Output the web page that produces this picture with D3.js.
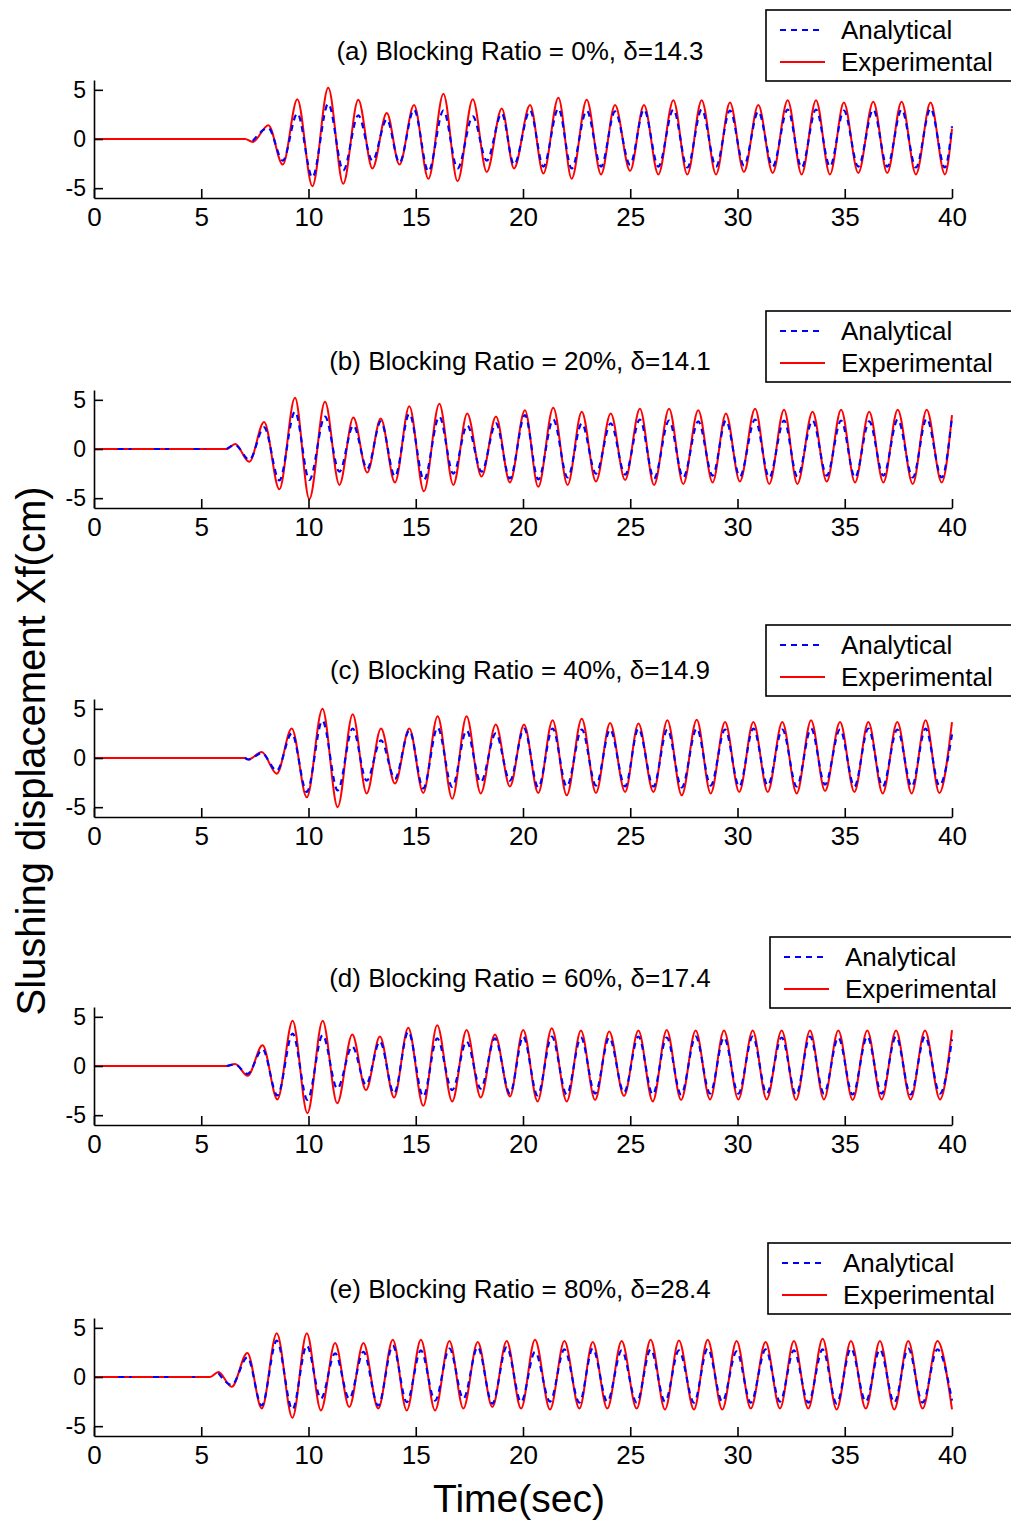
<!DOCTYPE html>
<html>
<head>
<meta charset="utf-8">
<script src="https://cdn.jsdelivr.net/npm/d3@7/dist/d3.min.js"></script>
<style>
body { margin: 0; background: #fff; }
text { font-family: "Liberation Sans", Arial, sans-serif; fill: #000; }
</style>
</head>
<body>
<script>
// axis ticks + labels
var xTicks = [0, 5, 10, 15, 20, 25, 30, 35, 40];
var yTicks = [-5, 0, 5];
var seriesNames = ["Analytical", "Experimental"];
var titles = [
  "(a) Blocking Ratio = 0%, \u03b4=14.3",
  "(b) Blocking Ratio = 20%, \u03b4=14.1",
  "(c) Blocking Ratio = 40%, \u03b4=14.9",
  "(d) Blocking Ratio = 60%, \u03b4=17.4",
  "(e) Blocking Ratio = 80%, \u03b4=28.4"
];

// extrema: time (sec), experimental, analytical (cm)
// (a) 0%
var tA   = [0, 7.04, 7.4, 8.13, 8.8, 9.48, 10.18, 10.92, 11.62, 12.32, 12.98, 13.65, 14.24, 14.92, 15.59, 16.29, 16.95, 17.66, 18.31, 19.01, 19.58, 20.33, 20.95, 21.65, 22.27, 22.97, 23.64, 24.29, 24.99, 25.64, 26.31, 27.01, 27.66, 28.33, 29.0, 29.65, 30.3, 30.97, 31.64, 32.34, 32.99, 33.66, 34.31, 34.96, 35.63, 36.33, 36.98, 37.65, 38.32, 39.0, 39.67, 40];
var expA = [0, 0, -0.3, 1.4, -2.6, 4.05, -4.8, 5.2, -4.55, 4.0, -3.0, 2.65, -2.6, 3.45, -4.05, 4.6, -4.3, 4.05, -3.35, 3.1, -3.0, 3.45, -3.5, 4.2, -4.05, 4.0, -3.6, 3.45, -3.25, 3.45, -3.6, 3.95, -3.6, 3.95, -3.6, 3.7, -3.35, 3.45, -3.45, 3.95, -3.6, 3.95, -3.6, 3.7, -3.45, 3.8, -3.45, 3.8, -3.6, 3.7, -3.6, 1.05];
var anaA = [null, null, -0.2, 1.1, -2.2, 2.6, -3.9, 3.6, -3.2, 2.4, -2.2, 2.0, -2.4, 3.0, -3.3, 2.9, -3.0, 2.3, -2.2, 2.6, -2.6, 2.9, -2.8, 3.1, -3.0, 2.9, -2.8, 2.8, -2.6, 3.0, -2.8, 3.0, -2.9, 3.0, -2.8, 2.9, -2.7, 2.8, -2.8, 3.0, -2.9, 3.0, -2.8, 2.9, -2.8, 3.0, -2.8, 3.0, -2.9, 3.1, -2.9, 1.3];

// (b) 20%
var tB   = [0, 1.0, 1.1, 1.75, 1.85, 2.7, 2.8, 3.5, 3.6, 4.55, 4.65, 5.2, 5.3, 6.19, 6.58, 7.24, 7.93, 8.64, 9.37, 10.04, 10.77, 11.44, 12.09, 12.74, 13.37, 14.03, 14.7, 15.38, 16.1, 16.75, 17.4, 18.07, 18.74, 19.39, 20.09, 20.71, 21.41, 22.08, 22.74, 23.4, 24.09, 24.76, 25.45, 26.11, 26.81, 27.47, 28.17, 28.84, 29.46, 30.11, 30.82, 31.48, 32.17, 32.79, 33.5, 34.16, 34.83, 35.48, 36.14, 36.8, 37.47, 38.17, 38.82, 39.52, 40];
var expB = [0, 0, 0, 0, 0, 0, 0, 0, 0, 0, 0, 0, 0, 0, 0.5, -1.3, 2.75, -4.1, 5.2, -5.1, 4.8, -3.65, 3.2, -2.4, 3.1, -3.4, 4.35, -4.3, 4.6, -3.65, 3.6, -2.8, 3.3, -3.4, 3.95, -3.85, 4.2, -3.65, 3.8, -3.3, 3.6, -3.15, 4.1, -3.65, 4.1, -3.55, 3.95, -3.4, 3.6, -3.3, 4.1, -3.55, 4.0, -3.55, 3.8, -3.3, 4.0, -3.4, 3.8, -3.4, 4.0, -3.55, 4.0, -3.4, 3.45];
var anaB = [null, null, 0, 0, null, null, 0, 0, null, null, 0, 0, null, 0, 0.4, -1.1, 2.2, -3.2, 3.8, -3.15, 3.3, -2.3, 2.4, -2.0, 2.8, -2.8, 3.6, -3.15, 3.3, -2.5, 2.4, -2.3, 2.6, -3.0, 3.45, -3.1, 3.0, -2.9, 2.6, -2.5, 2.6, -2.6, 3.0, -3.0, 2.9, -2.9, 2.8, -2.7, 2.9, -2.8, 3.0, -2.9, 2.9, -2.8, 2.9, -2.7, 2.9, -2.9, 2.8, -2.7, 3.0, -2.9, 3.1, -2.9, 3.3];

// (c) 40%
var tC   = [0, 7.04, 7.2, 7.82, 8.52, 9.22, 9.92, 10.65, 11.36, 12.06, 12.71, 13.38, 14.03, 14.7, 15.35, 16.02, 16.7, 17.37, 18.03, 18.73, 19.39, 20.05, 20.71, 21.38, 22.04, 22.74, 23.4, 24.06, 24.76, 25.38, 26.08, 26.73, 27.4, 28.1, 28.75, 29.42, 30.08, 30.74, 31.41, 32.09, 32.76, 33.43, 34.08, 34.78, 35.45, 36.1, 36.77, 37.45, 38.12, 38.77, 39.41, 40];
var expC = [0, 0, -0.15, 0.6, -1.6, 3.0, -4.0, 5.0, -5.0, 4.45, -3.6, 3.0, -2.6, 3.0, -3.55, 4.25, -4.15, 4.25, -3.6, 3.4, -2.9, 3.4, -3.55, 3.85, -3.8, 4.0, -3.55, 3.55, -3.45, 3.5, -3.45, 3.85, -3.8, 3.9, -3.6, 3.65, -3.45, 3.65, -3.45, 3.65, -3.6, 3.85, -3.35, 3.65, -3.45, 3.65, -3.6, 3.65, -3.6, 3.85, -3.55, 3.65];
var anaC = [null, 0, -0.15, 0.5, -1.3, 2.5, -3.45, 3.8, -3.3, 3.0, -2.3, 1.8, -2.1, 2.8, -3.1, 3.1, -2.95, 2.8, -2.45, 2.5, -2.3, 3.0, -3.0, 3.0, -2.9, 2.9, -2.8, 2.9, -2.9, 3.0, -2.9, 2.9, -3.0, 3.0, -2.8, 2.9, -2.9, 3.0, -2.8, 2.9, -2.9, 3.0, -2.7, 2.9, -2.9, 3.0, -2.9, 2.9, -2.9, 3.0, -2.8, 2.4];

// (d) 60%
var tD   = [0, 6.19, 6.58, 7.16, 7.86, 8.55, 9.26, 9.95, 10.66, 11.34, 12.04, 12.68, 13.33, 13.99, 14.65, 15.35, 16.0, 16.7, 17.37, 18.03, 18.69, 19.39, 20.01, 20.68, 21.34, 22.04, 22.7, 23.36, 24.02, 24.71, 25.38, 26.05, 26.7, 27.37, 28.05, 28.72, 29.37, 30.04, 30.71, 31.36, 32.06, 32.73, 33.38, 34.03, 34.7, 35.37, 36.05, 36.72, 37.39, 38.07, 38.74, 39.44, 40];
var expD = [0, 0, 0.2, -1.0, 2.1, -3.4, 4.6, -4.8, 4.6, -3.8, 3.2, -2.45, 3.0, -3.2, 3.9, -4.05, 4.15, -3.6, 3.65, -3.2, 3.2, -3.1, 3.65, -3.6, 3.85, -3.6, 3.6, -3.45, 3.5, -3.05, 3.6, -3.6, 3.65, -3.45, 3.6, -3.4, 3.6, -3.4, 3.6, -3.4, 3.6, -3.45, 3.6, -3.4, 3.6, -3.45, 3.6, -3.4, 3.6, -3.4, 3.6, -3.4, 3.65];
var anaD = [null, 0, 0.15, -0.8, 1.7, -3.0, 3.3, -3.45, 3.15, -2.3, 2.0, -1.9, 2.5, -2.8, 3.5, -3.1, 2.8, -2.45, 2.5, -2.3, 2.8, -2.8, 3.0, -3.0, 3.0, -2.9, 2.9, -2.8, 2.9, -2.7, 3.0, -2.9, 2.9, -2.9, 3.0, -2.8, 2.9, -2.8, 3.0, -2.8, 2.9, -2.9, 3.0, -2.8, 2.9, -2.9, 3.0, -2.8, 3.0, -2.9, 3.0, -2.8, 2.7];

// (e) 80%
var tE   = [0, 1.05, 1.13, 1.76, 1.84, 2.67, 2.75, 3.47, 3.55, 4.5, 4.58, 4.7, 4.78, 5.41, 5.8, 6.42, 7.15, 7.82, 8.52, 9.25, 9.92, 10.58, 11.24, 11.9, 12.56, 13.25, 13.93, 14.58, 15.24, 15.9, 16.57, 17.22, 17.89, 18.57, 19.24, 19.91, 20.56, 21.26, 21.93, 22.63, 23.25, 23.93, 24.6, 25.3, 25.95, 26.62, 27.27, 27.97, 28.61, 29.29, 29.96, 30.62, 31.31, 31.98, 32.63, 33.3, 33.97, 34.62, 35.29, 35.98, 36.64, 37.31, 37.96, 38.63, 39.32, 40];
var expE = [0, 0, 0, 0, 0, 0, 0, 0, 0, 0, 0, 0, 0, 0, 0.5, -1.0, 2.45, -3.2, 4.45, -4.15, 4.45, -3.4, 3.45, -3.05, 3.45, -3.2, 3.8, -3.4, 3.8, -3.4, 3.65, -3.2, 3.55, -3.05, 3.65, -3.2, 3.8, -3.3, 3.65, -3.2, 3.55, -3.2, 3.65, -3.2, 3.8, -3.3, 3.7, -3.3, 3.8, -3.3, 3.65, -3.2, 3.55, -3.2, 3.65, -3.2, 3.9, -3.3, 3.65, -3.2, 3.65, -3.3, 3.65, -3.2, 3.65, -3.3];
var anaE = [null, null, 0, 0, null, null, 0, 0, null, null, 0, 0, null, null, 0.4, -0.8, 2.0, -2.9, 3.7, -3.3, 3.2, -2.2, 2.4, -2.2, 2.55, -2.9, 3.2, -2.55, 2.7, -2.4, 2.9, -2.2, 3.05, -2.7, 3.05, -2.55, 2.55, -2.5, 2.8, -2.6, 2.9, -2.5, 2.7, -2.6, 2.8, -2.5, 2.7, -2.6, 2.9, -2.5, 2.6, -2.6, 2.8, -2.5, 2.7, -2.6, 2.8, -2.7, 2.9, -2.5, 2.8, -2.6, 2.9, -2.6, 2.8, -2.4];

var width = 1011,
    height = 1521;

var svg = d3.select("body").append("svg")
    .attr("width", width)
    .attr("height", height);

var x = d3.scaleLinear().domain([0, 40]).range([94, 952]);

// where each subplot sits (zero line y, legend box corner)
var layout = [
  {y0: 139,  lx: 766, ly: 10},
  {y0: 449,  lx: 766, ly: 311},
  {y0: 758,  lx: 766, ly: 625},
  {y0: 1066, lx: 770, ly: 937},
  {y0: 1377, lx: 768, ly: 1243}
];

var panels = [
  {t: tA, exp: expA, ana: anaA},
  {t: tB, exp: expB, ana: anaB},
  {t: tC, exp: expC, ana: anaC},
  {t: tD, exp: expD, ana: anaD},
  {t: tE, exp: expE, ana: anaE}
];

panels.forEach(function(p, i) {
  var L = layout[i];
  var y = d3.scaleLinear().domain([-6, 6]).range([L.y0 + 59, L.y0 - 59]);
  var g = svg.append("g");

  var line = d3.line()
      .defined(function(d) { return d[1] != null; })
      .x(function(d) { return x(d[0]); })
      .y(function(d) { return y(d[1]); })
      .curve(d3.curveMonotoneX);

  // experimental first, analytical dashes on top
  g.append("path")
      .attr("d", line(d3.zip(p.t, p.exp)))
      .style("fill", "none")
      .style("stroke", "#ff0000")
      .style("stroke-width", 2);

  g.append("path")
      .attr("d", line(d3.zip(p.t, p.ana)))
      .style("fill", "none")
      .style("stroke", "#0000ff")
      .style("stroke-width", 2.2)
      .style("stroke-dasharray", "6,5");

  var xa = g.append("g")
      .attr("transform", "translate(0," + (L.y0 + 59) + ")")
      .call(d3.axisBottom(x).tickValues(xTicks).tickSize(-9).tickSizeOuter(0)
            .tickPadding(10).tickFormat(function(d) { return String(d); }));
  xa.attr("font-size", null).attr("font-family", null);
  xa.selectAll("text").style("font-size", "26px");

  var ya = g.append("g")
      .attr("transform", "translate(94,0)")
      .call(d3.axisLeft(y).tickValues(yTicks).tickSize(-9).tickSizeOuter(0)
            .tickPadding(8).tickFormat(function(d) { return String(d); }));
  ya.attr("font-size", null).attr("font-family", null);
  ya.selectAll("text").style("font-size", "23px");

  g.selectAll(".domain, .tick line").style("stroke", "#000").style("stroke-width", 1.6);

  // title
  g.append("text")
      .attr("x", 520)
      .attr("y", L.y0 - 79)
      .attr("text-anchor", "middle")
      .style("font-size", "26px")
      .text(titles[i]);

  // legend
  var lg = g.append("g").attr("transform", "translate(" + L.lx + "," + L.ly + ")");
  lg.append("rect")
      .attr("width", 270).attr("height", 71)
      .style("fill", "#fff").style("stroke", "#000").style("stroke-width", 1.6);
  lg.append("line")
      .attr("x1", 14).attr("x2", 58).attr("y1", 20).attr("y2", 20)
      .style("stroke", "#0000ff").style("stroke-width", 2).style("stroke-dasharray", "6,5");
  lg.append("line")
      .attr("x1", 14).attr("x2", 59).attr("y1", 52).attr("y2", 52)
      .style("stroke", "#ff0000").style("stroke-width", 2);
  lg.selectAll("text.lab")
      .data(seriesNames)
      .enter().append("text")
      .attr("class", "lab")
      .attr("x", 75)
      .attr("y", function(d, k) { return 29 + k * 32; })
      .style("font-size", "26px")
      .text(function(d) { return d; });
});

// shared axis labels
svg.append("text")
    .attr("transform", "translate(45,751) rotate(-90)")
    .attr("text-anchor", "middle")
    .style("font-size", "40px")
    .text("Slushing displacement Xf(cm)");

svg.append("text")
    .attr("x", 519)
    .attr("y", 1512)
    .attr("text-anchor", "middle")
    .style("font-size", "39px")
    .text("Time(sec)");
</script>
</body>
</html>
